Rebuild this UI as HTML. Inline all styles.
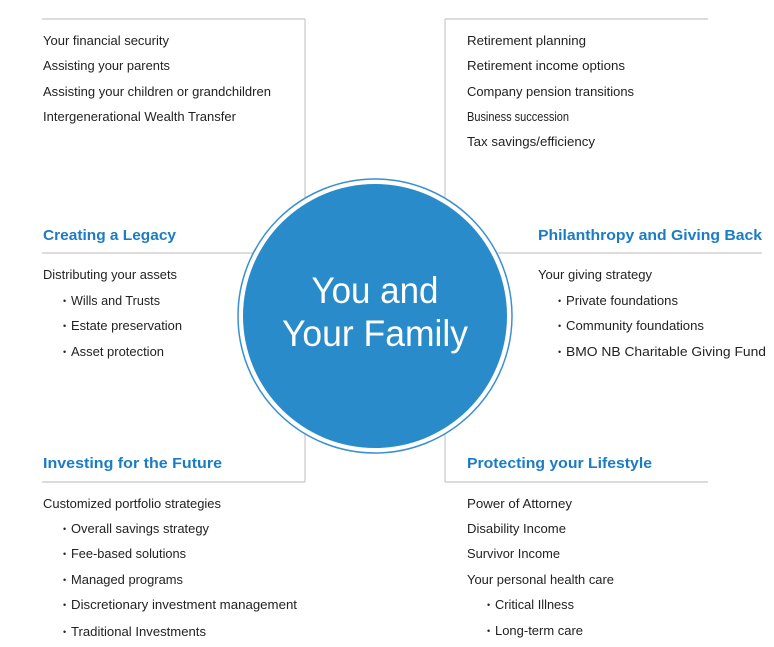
<!DOCTYPE html>
<html><head><meta charset="utf-8"><style>
html,body{margin:0;padding:0;background:#fff;}
svg{display:block;}
.t{font-family:"Liberation Sans",sans-serif;font-size:12.5px;fill:#222;}
.b{font-family:"Liberation Sans",sans-serif;font-size:9px;fill:#222;}
.h{font-family:"Liberation Sans",sans-serif;font-size:15px;font-weight:bold;fill:#1b7cc4;}
</style></head><body>
<svg width="774" height="647" viewBox="0 0 774 647" xmlns="http://www.w3.org/2000/svg">
<g stroke="#c8c8c8" stroke-width="1.2" fill="none">
<line x1="42" y1="19" x2="305" y2="19"/>
<line x1="305" y1="19" x2="305" y2="482"/>
<line x1="42" y1="253" x2="260" y2="253"/>
<line x1="42" y1="482" x2="305" y2="482"/>
<line x1="445" y1="19" x2="708" y2="19"/>
<line x1="445" y1="19" x2="445" y2="482"/>
<line x1="490" y1="253" x2="762" y2="253"/>
<line x1="445" y1="482" x2="708" y2="482"/>
</g>
<circle cx="375" cy="316" r="137" fill="#fff" stroke="#3a8fd0" stroke-width="1.5"/>
<circle cx="375" cy="316" r="132" fill="#2a8bcb"/>
<text x="375" y="303" text-anchor="middle" font-family="Liberation Sans,sans-serif" font-size="37" fill="#fff" textLength="127" lengthAdjust="spacingAndGlyphs">You and</text>
<text x="375" y="346" text-anchor="middle" font-family="Liberation Sans,sans-serif" font-size="37" fill="#fff" textLength="186" lengthAdjust="spacingAndGlyphs">Your Family</text>

<g class="t">
<text x="43" y="45" textLength="126" lengthAdjust="spacingAndGlyphs">Your financial security</text>
<text x="43" y="70" textLength="127" lengthAdjust="spacingAndGlyphs">Assisting your parents</text>
<text x="43" y="96" textLength="228" lengthAdjust="spacingAndGlyphs">Assisting your children or grandchildren</text>
<text x="43" y="121" textLength="193" lengthAdjust="spacingAndGlyphs">Intergenerational Wealth Transfer</text>

<text x="467" y="45" textLength="119" lengthAdjust="spacingAndGlyphs">Retirement planning</text>
<text x="467" y="70" textLength="158" lengthAdjust="spacingAndGlyphs">Retirement income options</text>
<text x="467" y="96" textLength="167" lengthAdjust="spacingAndGlyphs">Company pension transitions</text>
<text x="467" y="121" textLength="102" lengthAdjust="spacingAndGlyphs">Business succession</text>
<text x="467" y="146" textLength="128" lengthAdjust="spacingAndGlyphs">Tax savings/efficiency</text>

<text x="43" y="279" textLength="134" lengthAdjust="spacingAndGlyphs">Distributing your assets</text>
<text x="71" y="305" textLength="89" lengthAdjust="spacingAndGlyphs">Wills and Trusts</text>
<text x="71" y="330" textLength="111" lengthAdjust="spacingAndGlyphs">Estate preservation</text>
<text x="71" y="356" textLength="93" lengthAdjust="spacingAndGlyphs">Asset protection</text>

<text x="538" y="279" textLength="114" lengthAdjust="spacingAndGlyphs">Your giving strategy</text>
<text x="566" y="305" textLength="112" lengthAdjust="spacingAndGlyphs">Private foundations</text>
<text x="566" y="330" textLength="138" lengthAdjust="spacingAndGlyphs">Community foundations</text>
<text x="566" y="356" textLength="200" lengthAdjust="spacingAndGlyphs">BMO NB Charitable Giving Fund</text>

<text x="43" y="508" textLength="178" lengthAdjust="spacingAndGlyphs">Customized portfolio strategies</text>
<text x="71" y="533" textLength="138" lengthAdjust="spacingAndGlyphs">Overall savings strategy</text>
<text x="71" y="558" textLength="115" lengthAdjust="spacingAndGlyphs">Fee-based solutions</text>
<text x="71" y="584" textLength="112" lengthAdjust="spacingAndGlyphs">Managed programs</text>
<text x="71" y="609" textLength="226" lengthAdjust="spacingAndGlyphs">Discretionary investment management</text>
<text x="71" y="636" textLength="135" lengthAdjust="spacingAndGlyphs">Traditional Investments</text>

<text x="467" y="508" textLength="105" lengthAdjust="spacingAndGlyphs">Power of Attorney</text>
<text x="467" y="533" textLength="99" lengthAdjust="spacingAndGlyphs">Disability Income</text>
<text x="467" y="558" textLength="93" lengthAdjust="spacingAndGlyphs">Survivor Income</text>
<text x="467" y="584" textLength="147" lengthAdjust="spacingAndGlyphs">Your personal health care</text>
<text x="495" y="609" textLength="79" lengthAdjust="spacingAndGlyphs">Critical Illness</text>
<text x="495" y="635" textLength="88" lengthAdjust="spacingAndGlyphs">Long-term care</text>
</g>
<g class="b">
<text x="63" y="304">•</text><text x="63" y="329">•</text><text x="63" y="355">•</text>
<text x="558" y="304">•</text><text x="558" y="329">•</text><text x="558" y="355">•</text>
<text x="63" y="532">•</text><text x="63" y="557">•</text><text x="63" y="583">•</text><text x="63" y="608">•</text><text x="63" y="635">•</text>
<text x="487" y="608">•</text><text x="487" y="634">•</text>
</g>

<g class="h">
<text x="43" y="240" textLength="133" lengthAdjust="spacingAndGlyphs">Creating a Legacy</text>
<text x="538" y="240" textLength="224" lengthAdjust="spacingAndGlyphs">Philanthropy and Giving Back</text>
<text x="43" y="468" textLength="179" lengthAdjust="spacingAndGlyphs">Investing for the Future</text>
<text x="467" y="468" textLength="185" lengthAdjust="spacingAndGlyphs">Protecting your Lifestyle</text>
</g>
</svg>
</body></html>
